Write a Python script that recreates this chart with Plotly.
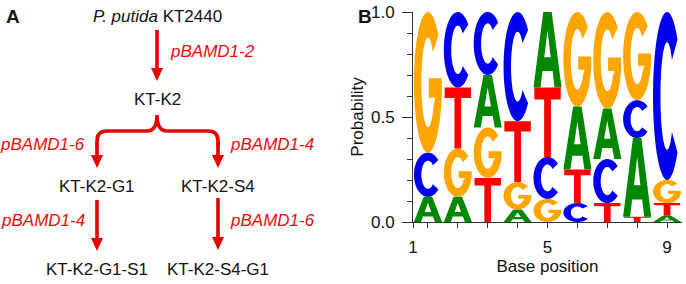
import numpy as np
import plotly.graph_objects as go

W, H = 686, 284

# ---------------- data (panel B: sequence logo) ----------------
positions = [1, 2, 3, 4, 5, 6, 7, 8, 9]
prob_A = [0.12, 0.12, 0.25, 0.06, 0.36, 0.30, 0.24, 0.375, 0.03]
prob_C = [0.21, 0.36, 0.30, 0.52, 0.20, 0.09, 0.21, 0.18, 0.80]
prob_G = [0.67, 0.23, 0.24, 0.13, 0.11, 0.45, 0.46, 0.42, 0.11]
prob_T = [0.00, 0.29, 0.21, 0.29, 0.33, 0.16, 0.09, 0.025, 0.06]
# letter order within each column, bottom to top, as seen in the logo
stack_order = ["TACG", "AGTC", "TGAC", "AGTC", "GCTA", "CTAG", "TCAG", "TACG", "ATGC"]

x_tick_text = ["1", "5", "9"]
x_tick_pos = [0.5, 5, 9]
y_tick_vals = [0.0, 0.5, 1.0]
y_tick_text = ["0.0", "0.5", "1.0"]

# ---------------- data (panel A: strain lineage) ----------------
root_label = "<i>P. putida</i> KT2440"
level1_label = "KT-K2"
level2_labels = ["KT-K2-G1", "KT-K2-S4"]
level3_labels = ["KT-K2-G1-S1", "KT-K2-S4-G1"]
plasmid_first = "pBAMD1-2"
plasmid_level2 = ["pBAMD1-6", "pBAMD1-4"]
plasmid_level3 = ["pBAMD1-4", "pBAMD1-6"]

FONT = "Arial, Liberation Sans, sans-serif"
RED = "rgb(230,0,0)"
TXT_RED = "rgb(240,10,10)"
BASE_COLORS = {"A": "rgb(0,135,0)", "C": "rgb(0,0,238)",
               "G": "rgb(255,165,0)", "T": "rgb(255,0,0)"}


# ---------------- glyph outlines in a unit box ----------------
def arc(cx, cy, rx, ry, a0, a1, n=48):
    t = np.radians(np.linspace(a0, a1, n))
    return list(zip(cx + rx * np.cos(t), cy + ry * np.sin(t)))


def glyph(letter):
    if letter == "A":
        outer = [(0.0, 0.0), (0.35, 1.0), (0.65, 1.0), (1.0, 0.0), (0.75, 0.0),
                 (0.68, 0.22), (0.32, 0.22), (0.25, 0.0)]
        hole = [(0.385, 0.40), (0.5, 0.76), (0.615, 0.40)]
        return [outer, hole]
    if letter == "T":
        return [[(0.03, 1.0), (0.97, 1.0), (0.97, 0.83), (0.62, 0.83), (0.62, 0.0),
                 (0.38, 0.0), (0.38, 0.83), (0.03, 0.83)]]
    if letter == "C":
        outer = arc(0.5, 0.5, 0.5, 0.5, 42, 318)
        inner = arc(0.5, 0.5, 0.235, 0.32, 318, 42)
        return [outer + inner]
    if letter == "G":
        outer = arc(0.5, 0.5, 0.5, 0.5, 42, 352)
        bar = [(0.99, 0.53), (0.53, 0.53), (0.53, 0.39), (0.76, 0.39)]
        inner = arc(0.5, 0.5, 0.235, 0.32, 330, 42)
        return [outer + bar + inner]
    return []


def letter_path(letter, xc, y0, h, half=0.47):
    parts = []
    for poly in glyph(letter):
        pts = [(xc - half + 2 * half * u, y0 + h * v) for u, v in poly]
        parts.append("M " + " L ".join(f"{x:.4f},{y:.5f}" for x, y in pts) + " Z")
    return " ".join(parts)


fig = go.Figure()
shapes = []
annotations = []

# logo letters, stacked in the observed order
probs = {"A": prob_A, "C": prob_C, "G": prob_G, "T": prob_T}
for i, p in enumerate(positions):
    y0 = 0.0
    for b in stack_order[i]:
        h = probs[b][i]
        if h > 0:
            shapes.append(dict(type="path", xref="x", yref="y",
                               path=letter_path(b, p, y0, h),
                               fillcolor=BASE_COLORS[b], fillrule="evenodd",
                               line=dict(width=0), layer="above"))
        y0 += h

# invisible trace to make the axes exist
fig.add_trace(go.Scatter(x=positions, y=[0] * len(positions), mode="markers",
                         marker=dict(opacity=0), hoverinfo="skip", showlegend=False))

fig.update_layout(
    width=W, height=H, margin=dict(l=0, r=0, t=0, b=0),
    paper_bgcolor="white", plot_bgcolor="white",
    font=dict(family=FONT, size=17, color="#111"),
    xaxis=dict(domain=[413 / W, 682 / W], range=[0.5, 9.5], showgrid=False,
               zeroline=False, showline=True, linecolor="#333", linewidth=1,
               ticks="outside", ticklen=5, tickcolor="#333",
               tickvals=x_tick_pos, ticktext=x_tick_text,
               minor=dict(tickvals=positions, ticks="outside", ticklen=5, tickcolor="#333"),
               tickfont=dict(size=17), ticklabelstandoff=5,
               title=dict(text="Base position", font=dict(size=17), standoff=3),
               automargin=False, fixedrange=True),
    yaxis=dict(domain=[1 - 222 / H, 1 - 12 / H], range=[0, 1], showgrid=False,
               zeroline=False, showline=True, linecolor="#333", linewidth=1,
               ticks="outside", ticklen=10, tickcolor="#333",
               tickvals=y_tick_vals, ticktext=y_tick_text,
               minor=dict(dtick=0.1, ticks="outside", ticklen=5, tickcolor="#333"),
               tickfont=dict(size=17), ticklabelstandoff=4,
               title=dict(text="Probability", font=dict(size=17), standoff=3),
               automargin=False, fixedrange=True),
)


# ---------------- panel A drawing (paper coordinates from pixel layout) ----------------
def px(x):
    return x / W


def py(y):
    return 1 - y / H


def arrow(x, y_start, y_tip, head_w=12, head_h=13):
    shapes.append(dict(type="line", xref="paper", yref="paper",
                       x0=px(x), x1=px(x), y0=py(y_start), y1=py(y_tip - head_h + 2),
                       line=dict(color=RED, width=3.6)))
    shapes.append(dict(type="path", xref="paper", yref="paper",
                       path=(f"M {px(x - head_w / 2)},{py(y_tip - head_h)} "
                             f"L {px(x + head_w / 2)},{py(y_tip - head_h)} "
                             f"L {px(x)},{py(y_tip)} Z"),
                       fillcolor=RED, line=dict(width=0)))


def label(text, x, y, anchor="center", color="#111", size=17, bold=False):
    annotations.append(dict(text=f"<b>{text}</b>" if bold else text,
                            x=px(x), y=py(y), xref="paper", yref="paper",
                            xanchor=anchor, yanchor="middle", showarrow=False,
                            font=dict(family=FONT, size=size, color=color)))


# panel letters
label("A", 13, 16, size=19, bold=True)
label("B", 365, 16, size=19, bold=True)

# root -> KT-K2
label(root_label, 157, 16)
arrow(157, 30, 81)
label(f"<i>{plasmid_first}</i>", 168, 52, anchor="left", color=TXT_RED)
label(level1_label, 157, 99)

# curly brace
xl, xm, xr, yb, ytip, r = 97, 157, 218, 131, 115, 10
brace = (f"M {px(xl)},{py(yb + 16)} L {px(xl)},{py(yb + r)} "
         f"Q {px(xl)},{py(yb)} {px(xl + r)},{py(yb)} "
         f"L {px(xm - r)},{py(yb)} Q {px(xm)},{py(yb)} {px(xm)},{py(ytip)} "
         f"Q {px(xm)},{py(yb)} {px(xm + r)},{py(yb)} "
         f"L {px(xr - r)},{py(yb)} Q {px(xr)},{py(yb)} {px(xr)},{py(yb + r)} "
         f"L {px(xr)},{py(yb + 16)}")
shapes.append(dict(type="path", xref="paper", yref="paper", path=brace,
                   line=dict(color=RED, width=3.6)))
arrow(xl, yb + 12, 168)
arrow(xr, yb + 12, 168)
label(f"<i>{plasmid_level2[0]}</i>", 87, 144, anchor="right", color=TXT_RED)
label(f"<i>{plasmid_level2[1]}</i>", 228, 144, anchor="left", color=TXT_RED)

label(level2_labels[0], 97, 186)
label(level2_labels[1], 218, 186)

arrow(97, 200, 251)
arrow(218, 198, 250)
label(f"<i>{plasmid_level3[0]}</i>", 87, 220, anchor="right", color=TXT_RED)
label(f"<i>{plasmid_level3[1]}</i>", 228, 220, anchor="left", color=TXT_RED)

label(level3_labels[0], 97, 269)
label(level3_labels[1], 218, 269)

fig.update_layout(shapes=shapes, annotations=annotations)
fig.write_html("out.html", config={"displayModeBar": False},
               post_script="document.body.style.margin='0';")
